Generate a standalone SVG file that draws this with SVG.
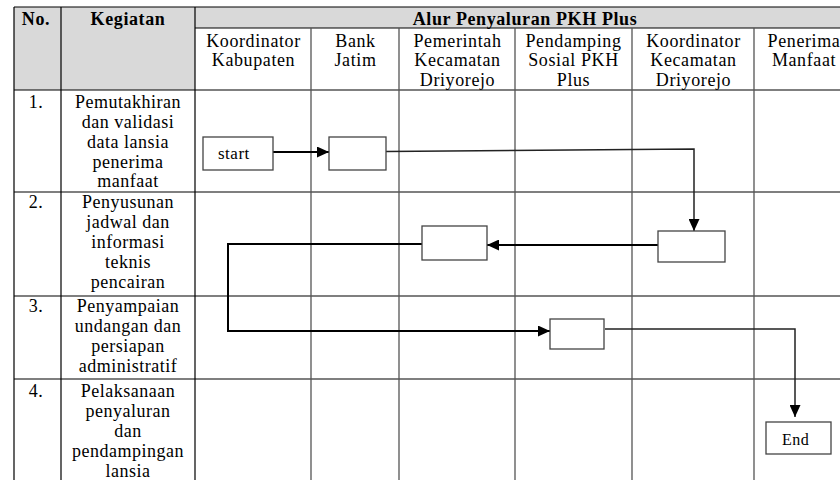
<svg xmlns="http://www.w3.org/2000/svg" width="840" height="480" viewBox="0 0 840 480">
<style>
  .t{font-family:"Liberation Serif","Times New Roman","DejaVu Serif",serif;font-size:18px;fill:#000;letter-spacing:0.5px}
  .c{text-anchor:middle}
  .b{font-weight:bold;letter-spacing:0.6px}
  .h{letter-spacing:0.6px}
  .hl{stroke:#000;stroke-width:1.2;fill:none}
  .vl{stroke:#555;stroke-width:1.3;fill:none}
  .box{fill:#fff;stroke:#444;stroke-width:1.3}
  .conn{fill:none;stroke:#000;stroke-width:2}
  .thin{fill:none;stroke:#222;stroke-width:1.5}
</style>
<defs>
  <marker id="ah" viewBox="0 0 12 11" refX="12" refY="5.5" markerWidth="12" markerHeight="11" markerUnits="userSpaceOnUse" orient="auto">
    <path d="M0,0 L12,5.5 L0,11 Z" fill="#000"/>
  </marker>
</defs>
<rect width="840" height="480" fill="#fff"/>
<g id="table">
  <rect x="14" y="7" width="181" height="83" fill="#d9d9d9"/>
  <rect x="195" y="7" width="645" height="21" fill="#d9d9d9"/>
  <path class="hl" d="M14,7 H840 M195,28 H840 M14,90 H840 M14,192 H840 M14,296 H840 M14,379 H840"/>
  <path class="hl" d="M14,7 V480 M61,7 V480 M195,7 V480"/>
  <path class="vl" d="M311,28 V480 M399,28 V480 M515,28 V480 M632,28 V480 M754,28 V480"/>
  <text class="t b c" x="36" y="24.5">No.</text>
  <text class="t b c" x="128" y="24.5">Kegiatan</text>
  <text class="t b c" x="525" y="24.5">Alur Penyaluran PKH Plus</text>
  <text class="t h c" x="253.5" y="46.5">Koordinator</text>
  <text class="t h c" x="253.5" y="66">Kabupaten</text>
  <text class="t h c" x="355.5" y="46.5">Bank</text>
  <text class="t h c" x="355.5" y="66">Jatim</text>
  <text class="t h c" x="457.5" y="46.5">Pemerintah</text>
  <text class="t h c" x="457.5" y="66">Kecamatan</text>
  <text class="t h c" x="457.5" y="85.5">Driyorejo</text>
  <text class="t h c" x="573.5" y="46.5">Pendamping</text>
  <text class="t h c" x="573.5" y="66">Sosial PKH</text>
  <text class="t h c" x="573.5" y="85.5">Plus</text>
  <text class="t h c" x="693.5" y="46.5">Koordinator</text>
  <text class="t h c" x="693.5" y="66">Kecamatan</text>
  <text class="t h c" x="693.5" y="85.5">Driyorejo</text>
  <text class="t h c" x="804" y="46.5">Penerima</text>
  <text class="t h c" x="804" y="66">Manfaat</text>
  <text class="t c" x="36" y="108">1.</text>
  <text class="t c" x="128" y="108">Pemutakhiran</text>
  <text class="t c" x="128" y="128">dan validasi</text>
  <text class="t c" x="128" y="148">data lansia</text>
  <text class="t c" x="128" y="167.5">penerima</text>
  <text class="t c" x="128" y="187">manfaat</text>
  <text class="t c" x="36" y="208">2.</text>
  <text class="t c" x="128" y="208">Penyusunan</text>
  <text class="t c" x="128" y="228">jadwal dan</text>
  <text class="t c" x="128" y="248">informasi</text>
  <text class="t c" x="128" y="268">teknis</text>
  <text class="t c" x="128" y="288">pencairan</text>
  <text class="t c" x="36" y="312">3.</text>
  <text class="t c" x="128" y="312">Penyampaian</text>
  <text class="t c" x="128" y="332">undangan dan</text>
  <text class="t c" x="128" y="352">persiapan</text>
  <text class="t c" x="128" y="372">administratif</text>
  <text class="t c" x="36" y="397">4.</text>
  <text class="t c" x="128" y="397">Pelaksanaan</text>
  <text class="t c" x="128" y="417">penyaluran</text>
  <text class="t c" x="128" y="437">dan</text>
  <text class="t c" x="128" y="457">pendampingan</text>
  <text class="t c" x="128" y="477">lansia</text>
</g>
<g id="connectors">
  <path class="conn" d="M273,152 H329" marker-end="url(#ah)"/>
  <path class="thin" d="M386,151.5 L694,149 V231" marker-end="url(#ah)"/>
  <path class="conn" d="M658,245 H487" marker-end="url(#ah)"/>
  <path class="conn" d="M422,244 H228 V331 H550" marker-end="url(#ah)"/>
  <path class="thin" d="M605,329 H795 V417" marker-end="url(#ah)"/>
</g>
<g id="node-start">
  <rect class="box" x="203" y="137" width="70" height="33"/>
  <text class="t" style="font-size:17px" x="218" y="159">start</text>
</g>
<g id="node-bank">
  <rect class="box" x="329" y="137" width="57" height="33"/>
</g>
<g id="node-koordinator-kec">
  <rect class="box" x="658" y="231" width="67" height="31"/>
</g>
<g id="node-pemerintah-kec">
  <rect class="box" x="422" y="226" width="65" height="34"/>
</g>
<g id="node-pendamping">
  <rect class="box" x="550" y="319" width="54" height="30"/>
</g>
<g id="node-end">
  <rect class="box" x="766" y="422" width="65" height="32"/>
  <text class="t" style="font-size:16px;letter-spacing:0.5px" x="782" y="445">End</text>
</g>
</svg>
